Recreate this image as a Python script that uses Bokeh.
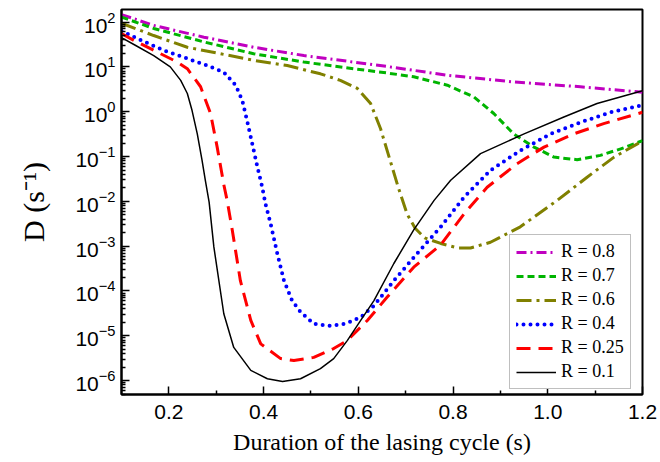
from bokeh.plotting import figure
from bokeh.models import (Range1d, FixedTicker, NumeralTickFormatter, Legend,
                          LegendItem)
from bokeh.embed import file_html
from bokeh.resources import INLINE

# ---------------- data ----------------
x_r08 = [0.10, 0.168, 0.274, 0.379, 0.485, 0.59, 0.661, 0.788, 0.928, 1.069, 1.2]
d_r08 = [147, 84, 46, 27.4, 17.9, 12.8, 10.2, 6.5, 4.6, 3.6, 2.72]

x_r07 = [0.10, 0.168, 0.274, 0.379, 0.485, 0.59, 0.661, 0.717, 0.788, 0.844,
         0.886, 0.928, 0.971, 1.013, 1.062, 1.111, 1.154, 1.2]
d_r07 = [129, 72, 36, 19.6, 12.8, 9.1, 7.3, 6.0, 3.9, 2.13,
         0.91, 0.32, 0.162, 0.097, 0.085, 0.106, 0.148, 0.226]

x_r06 = [0.10, 0.168, 0.239, 0.309, 0.379, 0.45, 0.52, 0.562, 0.598, 0.626,
         0.647, 0.666, 0.684, 0.703, 0.72, 0.74, 0.774, 0.81, 0.837, 0.879,
         0.942, 1.02, 1.083, 1.14, 1.2]
d_r06 = [94, 50, 27.4, 19.6, 14.0, 10.7, 7.0, 5.0, 3.3, 1.52,
         0.415, 0.090, 0.021, 5.2e-3, 2.5e-3, 1.53e-3, 1.15e-3, 9.1e-4, 9.1e-4, 1.22e-3,
         2.7e-3, 0.0105, 0.0345, 0.097, 0.222]

x_r04 = [0.10, 0.142, 0.189, 0.239, 0.281, 0.316, 0.341, 0.355, 0.365, 0.376,
         0.387, 0.397, 0.404, 0.415, 0.429, 0.443, 0.46, 0.478, 0.506, 0.541,
         0.573, 0.605, 0.633, 0.675, 0.724, 0.774, 0.823, 0.879, 0.942, 1.006,
         1.069, 1.133, 1.2]
d_r04 = [63, 39, 23.4, 15.3, 10.7, 7.6, 3.9, 1.78, 0.64, 0.194,
         0.058, 0.021, 8.8e-3, 3.1e-3, 6.8e-4, 1.70e-4, 6.1e-5, 3.4e-5, 1.85e-5, 1.66e-5,
         1.85e-5, 2.6e-5, 4.7e-5, 1.70e-4, 6.8e-4, 2.7e-3, 0.0123, 0.049, 0.136, 0.32,
         0.58, 0.97, 1.39]

x_r025 = [0.10, 0.126, 0.168, 0.218, 0.239, 0.267, 0.288, 0.302, 0.316, 0.323,
          0.334, 0.351, 0.373, 0.394, 0.436, 0.464, 0.506, 0.548, 0.577, 0.619,
          0.661, 0.717, 0.774, 0.823, 0.872, 0.935, 0.992, 1.055, 1.118, 1.2]
d_r025 = [55, 39, 23.4, 12.8, 9.1, 3.6, 0.91, 0.162, 0.0236, 0.0105,
          2.24e-3, 1.70e-4, 2.2e-5, 6.6e-6, 3.1e-6, 2.8e-6, 3.3e-6, 5.2e-6, 7.9e-6, 2.2e-5,
          7.3e-5, 3.4e-4, 1.07e-3, 5.2e-3, 0.0206, 0.069, 0.162, 0.32, 0.54, 0.97]

x_r01 = [0.10, 0.13, 0.168, 0.203, 0.225, 0.239, 0.249, 0.26, 0.27, 0.277,
         0.285, 0.295, 0.316, 0.337, 0.373, 0.408, 0.44, 0.478, 0.52, 0.548,
         0.577, 0.605, 0.633, 0.675, 0.717, 0.76, 0.795, 0.858, 0.95, 1.034,
         1.104, 1.2]
d_r01 = [45, 30, 17.9, 10, 5.0, 2.55, 1.06, 0.32, 0.083, 0.0295,
         9.6e-3, 9.6e-4, 3.1e-5, 5.5e-6, 1.69e-6, 1.10e-6, 9.6e-7, 1.10e-6, 1.85e-6, 3.1e-6,
         7.9e-6, 2.2e-5, 6.1e-5, 4.1e-4, 2.3e-3, 0.0105, 0.0295, 0.116, 0.32, 0.76,
         1.52, 2.92]

legend_labels = ["R = 0.8", "R = 0.7", "R = 0.6", "R = 0.4", "R = 0.25", "R = 0.1"]
x_ticks = [0.2, 0.4, 0.6, 0.8, 1.0, 1.2]
x_minor = [0.3, 0.5, 0.7, 0.9, 1.1]
y_exponents = [-6, -5, -4, -3, -2, -1, 0, 1, 2]
x_title = "Duration of the lasing cycle (s)"
y_title = "D (s\u207b\u00b9)"

X_MIN, X_MAX = 0.1, 1.2
Y_MIN, Y_MAX = 10 ** -6.31, 10 ** 2.28

# ---------------- figure ----------------
p = figure(frame_width=521, frame_height=385, output_backend="svg",
           toolbar_location=None,
           x_range=Range1d(X_MIN, X_MAX), y_range=Range1d(Y_MIN, Y_MAX),
           y_axis_type="log",
           min_border_left=121, min_border_right=18, min_border_top=9,
           min_border_bottom=68)
p.grid.visible = False
p.background_fill_color = "white"
p.border_fill_color = "white"
p.outline_line_color = "black"
p.outline_line_width = 2

styles = [
    dict(color="#C000C0", line_width=3, line_dash="10 4 2 4"),
    dict(color="#00B400", line_width=3, line_dash="7 4"),
    dict(color="#808000", line_width=3, line_dash="15 5 3 5"),
    dict(color="#0000FF", line_width=4, line_dash="0 7", line_cap="round"),
    dict(color="#FF0000", line_width=3, line_dash="14 8"),
    dict(color="black", line_width=1.5),
]
series = [(x_r08, d_r08), (x_r07, d_r07), (x_r06, d_r06),
          (x_r04, d_r04), (x_r025, d_r025), (x_r01, d_r01)]

renderers = []
for (xs, ys), st in zip(series, styles):
    renderers.append(p.line(xs, ys, **st))

# ---------------- axes ----------------
p.xaxis.ticker = FixedTicker(ticks=x_ticks, minor_ticks=x_minor)
p.xaxis.formatter = NumeralTickFormatter(format="0.0")
p.yaxis.ticker = FixedTicker(
    ticks=[10.0 ** e for e in y_exponents],
    minor_ticks=[m * 10.0 ** e for e in range(-7, 3) for m in range(2, 10)])

for ax in (p.xaxis[0], p.yaxis[0]):
    ax.axis_line_width = 2
    ax.axis_line_color = "black"
    ax.major_tick_in = 8
    ax.major_tick_out = 0
    ax.minor_tick_in = 4
    ax.minor_tick_out = 0
    ax.major_tick_line_width = 1.5
    ax.minor_tick_line_width = 1.5
    ax.major_tick_line_color = "black"
    ax.minor_tick_line_color = "black"
    ax.major_label_text_font = "Liberation Sans"
    ax.major_label_text_font_size = "21px"
    ax.major_label_text_color = "black"
    ax.axis_label_text_font = "Liberation Serif"
    ax.axis_label_text_font_style = "normal"
    ax.axis_label_text_color = "black"

p.xaxis.major_label_standoff = 10
p.yaxis.major_label_standoff = 6
p.xaxis.axis_label = x_title
p.xaxis.axis_label_text_font_size = "24px"
p.xaxis.axis_label_standoff = 7
p.yaxis.axis_label = y_title
p.yaxis.axis_label_text_font_size = "30px"
p.yaxis.axis_label_standoff = 22

# ---------------- legend ----------------
legend = Legend(items=[LegendItem(label=lab, renderers=[r])
                       for lab, r in zip(legend_labels, renderers)],
                location=(388, 5))
legend.margin = 0
legend.padding = 6
legend.spacing = 3
legend.glyph_width = 40
legend.glyph_height = 20
legend.label_height = 20
legend.label_standoff = 5
legend.label_text_font = "Liberation Serif"
legend.label_text_font_size = "18px"
legend.label_text_color = "black"
legend.border_line_color = "#808080"
legend.border_line_width = 1
legend.background_fill_color = "white"
legend.background_fill_alpha = 1
p.add_layout(legend)

open("out.html", "w").write(file_html(p, INLINE))
